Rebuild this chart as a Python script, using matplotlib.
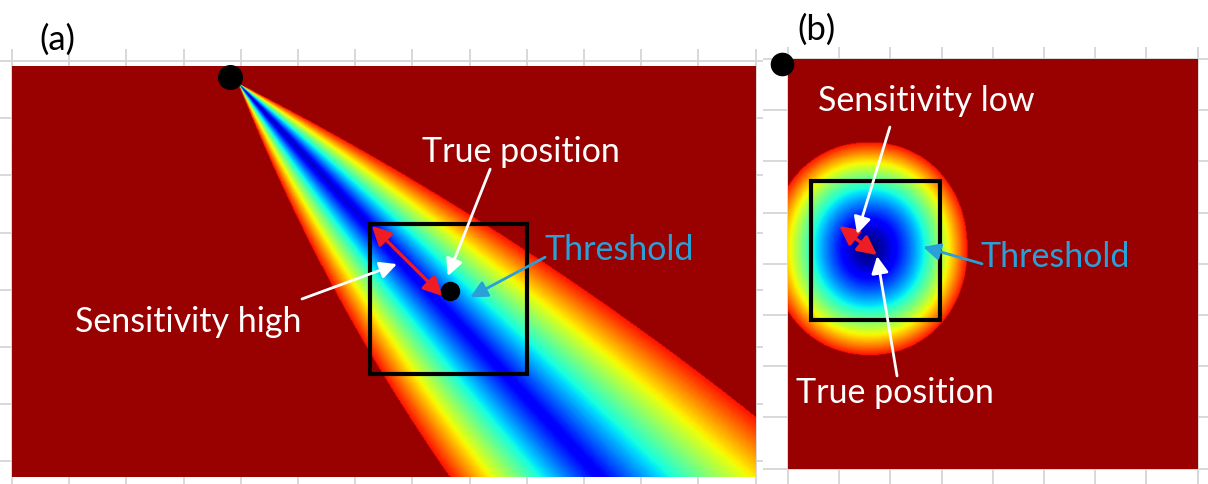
#!/usr/bin/env python3
"""Likelihood maps for a bearing sensor (a) and a range sensor (b).

Both panels share the same jet scale: low cost (blue) along the measured
bearing / around the measured range, saturated dark red outside.
Coordinates are in grid units (one light grey gridline per unit), y down.
"""

import matplotlib
matplotlib.use("Agg")
import matplotlib.pyplot as plt
import numpy as np
from matplotlib.colors import ListedColormap
from matplotlib.patches import Rectangle

# --- panel (a): bearing sensor -------------------------------------------
A_XLIM = [-0.21, 13.13]
A_YLIM = [7.395, -0.21]
A_MAP = [0.0, 13.0, 7.27, 0.09]          # left, right, bottom, top
A_SENSOR = [3.81, 0.28]
A_APEX = [3.95, 0.385]
A_BEARING = 42.6                         # deg from straight down, towards +x
A_WIDTH_LEFT = [21.0, 0.85]              # deg at apex, shrink per unit range
A_WIDTH_RIGHT = [20.3, 0.53]
A_TARGET = [7.66, 4.02]
A_BOX = [6.26, 2.85, 9.00, 5.47]         # x0, y0, x1, y1
A_SPREAD = [[6.29, 2.88], [7.53, 4.11]]

# --- panel (b): range sensor ---------------------------------------------
B_XLIM = [-0.488, 8.203]
B_YLIM = [8.301, -0.234]
B_MAP = [0.0, 8.0, 8.0, 0.0]
B_SENSOR = [-0.12, 0.10]
B_CENTER = [1.58, 3.70]
B_RADII = [1.92, 2.08]
B_BOX = [0.45, 2.38, 2.97, 5.10]
B_SPREAD = [[1.0, 3.26], [1.74, 3.83]]

LABELS_A = ["True position", "Sensitivity high", "Threshold"]
LABELS_B = ["Sensitivity low", "Threshold", "True position"]

DARK_RED = "#990000"
SKY = "#2aa0d8"
GRID = "#d6d6d6"
TOP = 0.89   # jet position where the saturated red starts
FS = 24.5

plt.rcParams["font.family"] = ["Lato", "DejaVu Sans"]

cmap = ListedColormap(plt.cm.jet(np.linspace(0, TOP, 256)))
cmap.set_over(DARK_RED)


def bearing_map(nx=800, ny=450):
    x = np.linspace(A_MAP[0], A_MAP[1], nx)
    y = np.linspace(A_MAP[3], A_MAP[2], ny)
    X, Y = np.meshgrid(x, y)
    dx, dy = X - A_APEX[0], Y - A_APEX[1]
    theta = np.degrees(np.arctan2(dx, dy))
    dist = np.hypot(dx, dy)
    delta = theta - A_BEARING
    half = np.where(delta < 0,
                    A_WIDTH_LEFT[0] - A_WIDTH_LEFT[1] * dist,
                    A_WIDTH_RIGHT[0] - A_WIDTH_RIGHT[1] * dist)
    u = np.abs(delta) / half
    u = np.where(delta > 0, u, u ** 1.1)
    vmin = 0.03 + 0.08 * np.clip(dist / 5.2, 0, 1)
    v = vmin + (TOP - vmin) * u
    v[(u > 1) | (dy <= 0)] = 2.0
    return v


def range_map(n=500):
    x = np.linspace(B_MAP[0], B_MAP[1], n)
    y = np.linspace(B_MAP[3], B_MAP[2], n)
    X, Y = np.meshgrid(x, y)
    p = 2.1
    ex = np.abs(X - B_CENTER[0]) / B_RADII[0]
    ey = np.abs(Y - B_CENTER[1]) / B_RADII[1]
    rho = (ex ** p + ey ** p) ** (1 / p)
    v = TOP * rho ** 1.5
    v[v > TOP] = 2.0
    return v


def setup(ax, xlim, ylim, nx, ny):
    ax.set_xlim(xlim)
    ax.set_ylim(ylim)
    ax.set_xticks(np.arange(nx + 1))
    ax.set_yticks(np.arange(ny + 1))
    ax.set_axisbelow(True)
    ax.grid(True, color=GRID, lw=1.3)
    ax.tick_params(length=0, labelbottom=False, labelleft=False)
    for s in ax.spines.values():
        s.set_visible(False)


def arrow(ax, tail, tip, color, both=False, lw=2.0, scale=17):
    style = "<|-|>" if both else "-|>"
    ax.annotate("", xy=tip, xytext=tail,
                arrowprops=dict(arrowstyle=f"{style},head_length=0.6,head_width=0.3",
                                mutation_scale=scale, color=color, lw=lw,
                                shrinkA=0, shrinkB=0), zorder=6)


def box(ax, b):
    ax.add_patch(Rectangle((b[0], b[1]), b[2] - b[0], b[3] - b[1], fill=False,
                           ec="black", lw=3, zorder=5))


fig = plt.figure(figsize=(12.08, 4.85), dpi=100)

# panel (a)
ax = fig.add_axes([0, 0, 763 / 1208, 435 / 485])
setup(ax, A_XLIM, A_YLIM, 13, 7)
ax.imshow(bearing_map(), cmap=cmap, vmin=0, vmax=TOP, extent=A_MAP,
          aspect="auto", interpolation="bilinear", zorder=1)
box(ax, A_BOX)
ax.plot(*A_SENSOR, "o", color="black", ms=17, zorder=7)
ax.plot(*A_TARGET, "o", color="black", ms=13, zorder=7)
arrow(ax, A_SPREAD[0], A_SPREAD[1], "#ee1c24", both=True, lw=2.4, scale=19)
ax.text(8.90, 1.75, LABELS_A[0], color="white", fontsize=FS, ha="center", va="baseline")
arrow(ax, (8.36, 1.89), (7.62, 3.76), "white")
ax.text(3.08, 4.72, LABELS_A[1], color="white", fontsize=FS, ha="center", va="baseline")
arrow(ax, (5.07, 4.16), (6.73, 3.55), "white")
ax.text(10.61, 3.46, LABELS_A[2], color=SKY, fontsize=FS, ha="center", va="baseline")
arrow(ax, (9.32, 3.43), (8.01, 4.13), SKY)

# panel (b)
bx = fig.add_axes([763 / 1208, 0, 445 / 1208, 437 / 485])
setup(bx, B_XLIM, B_YLIM, 8, 8)
bx.imshow(range_map(), cmap=cmap, vmin=0, vmax=TOP, extent=B_MAP,
          aspect="auto", interpolation="bilinear", zorder=1)
box(bx, B_BOX)
bx.plot(*B_SENSOR, "o", color="black", ms=16, zorder=7, clip_on=False)
arrow(bx, B_SPREAD[0], B_SPREAD[1], "#ee1c24", both=True, lw=2.4, scale=19)
bx.text(2.71, 1.0, LABELS_B[0], color="white", fontsize=FS, ha="center", va="baseline")
arrow(bx, (1.99, 1.33), (1.35, 3.42), "white")
bx.text(5.21, 4.04, LABELS_B[1], color=SKY, fontsize=FS, ha="center", va="baseline")
arrow(bx, (3.79, 4.0), (2.64, 3.67), SKY)
bx.text(2.09, 6.70, LABELS_B[2], color="white", fontsize=FS, ha="center", va="baseline")
arrow(bx, (2.13, 6.19), (1.74, 3.85), "white")

fig.text(0.0476, 0.897, "(a)", fontsize=25, ha="center", va="baseline")
fig.text(0.6755, 0.9175, "(b)", fontsize=25, ha="center", va="baseline")

fig.savefig("out.png", dpi=100)
